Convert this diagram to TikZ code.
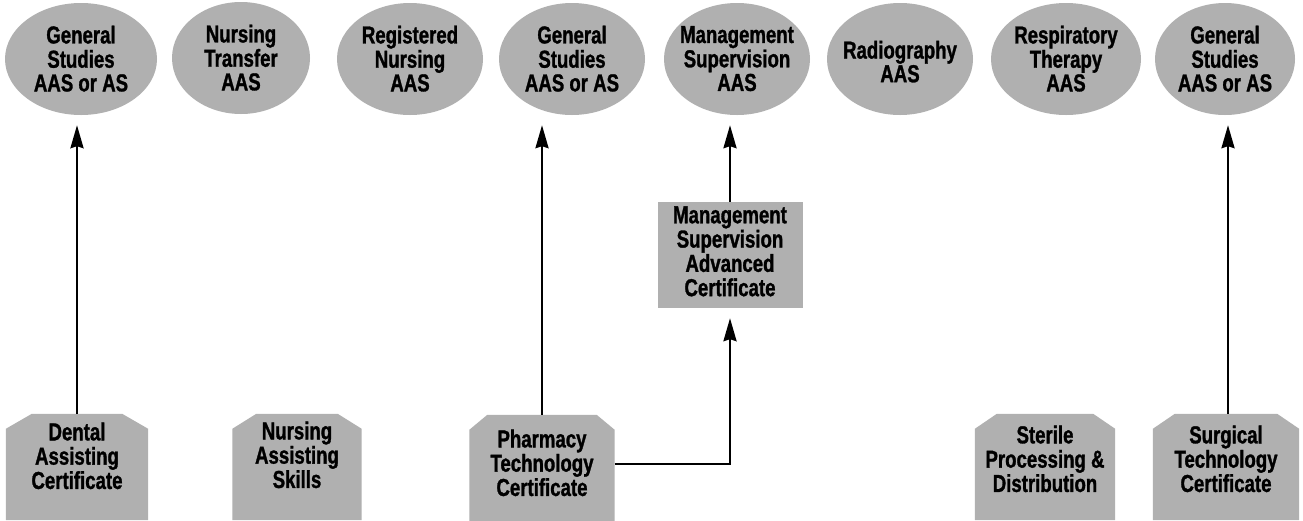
\documentclass[tikz,border=0pt]{standalone}
\usepackage{fontspec}
\usetikzlibrary{arrows.meta,shapes.geometric,backgrounds}
\newfontfamily\condfont{Liberation Sans}[FakeStretch=0.76,FakeBold=1.2]
\definecolor{halftone}{gray}{0.69}
\newcommand{\ztext}[2]{\makebox[0pt]{\raisebox{#1}{\begin{tabular}{@{}c@{}}#2\end{tabular}}}}
\begin{document}
\begin{tikzpicture}[x=1pt,y=-1pt,
  lab/.style={font=\condfont\bfseries\fontsize{24.5}{21.8}\selectfont, text height=0pt, text depth=0pt, inner sep=0pt},
  degree/.style={lab, ellipse, fill=halftone, minimum height=112pt},
  cert/.style={lab, rectangle, minimum height=106pt},
  advbox/.style={lab, rectangle, fill=halftone, minimum width=145pt, minimum height=106pt},
  arr/.style={line width=2.4pt, -{Stealth[length=23pt,width=13pt,inset=2pt]}, shorten >=10pt},
]
\useasboundingbox (0,0) rectangle (1303,520);

% degree ellipses
\node[degree, minimum width=152pt] (gs1) at (81,59) {\ztext{-9pt}{General\\Studies\\AAS or AS}};
\node[degree, minimum width=138pt] (nt) at (241,58) {\ztext{-9pt}{Nursing\\Transfer\\AAS}};
\node[degree, minimum width=146pt] (rn) at (410,59) {\ztext{-9pt}{Registered\\Nursing\\AAS}};
\node[degree, minimum width=146pt] (gs2) at (572,59) {\ztext{-9pt}{General\\Studies\\AAS or AS}};
\node[degree, minimum width=146pt] (ms) at (737,59) {\ztext{-9pt}{Management\\Supervision\\AAS}};
\node[degree, minimum width=146pt] (rad) at (900,59) {\ztext{-12pt}{Radiography\\AAS}};
\node[degree, minimum width=150pt] (rt) at (1066,59) {\ztext{-9pt}{Respiratory\\Therapy\\AAS}};
\node[degree, minimum width=140pt] (gs3) at (1225,59) {\ztext{-9pt}{General\\Studies\\AAS or AS}};

% advanced certificate
\node[advbox] (mgc) at (730,255) {\ztext{-5.75pt}{Management\\Supervision\\Advanced\\Certificate}};

% certificates
\node[cert, minimum width=142pt] (dental) at (77,467) {\ztext{1.75pt}{Dental\\Assisting\\Certificate}};
\node[cert, minimum width=129pt] (nas) at (297,467) {\ztext{2.75pt}{Nursing\\Assisting\\Skills}};
\node[cert, minimum width=145pt] (pharm) at (542,468) {\ztext{-4.25pt}{Pharmacy\\Technology\\Certificate}};
\node[cert, minimum width=140pt] (spd) at (1045,467) {\ztext{-1.25pt}{Sterile\\Processing \&\\Distribution}};
\node[cert, minimum width=146pt] (surg) at (1226,467) {\ztext{-1.25pt}{Surgical\\Technology\\Certificate}};

\begin{pgfonlayer}{background}
\fill[white] (0,0) rectangle (1303,520);
\foreach \n/\cx in {dental/26,nas/24,pharm/18,spd/22,surg/22}{
  \fill[halftone] (\n.south west) -- ([yshift=-15pt]\n.north west) -- ([xshift=\cx pt]\n.north west)
    -- ([xshift=-\cx pt]\n.north east) -- ([yshift=-15pt]\n.north east) -- (\n.south east) -- cycle;
}
\end{pgfonlayer}

% connectors
\draw[arr] (dental.north) -- (dental.north |- gs1.south);
\draw[arr] (pharm.north) -- (pharm.north |- gs2.south);
\draw[arr] (mgc.north) -- (mgc.north |- ms.south);
\draw[arr] ([yshift=4pt]pharm.east) -| (mgc.south);
\draw[arr] ([xshift=2pt]surg.north) -- ([xshift=2pt]surg.north |- gs3.south);
\end{tikzpicture}
\end{document}
